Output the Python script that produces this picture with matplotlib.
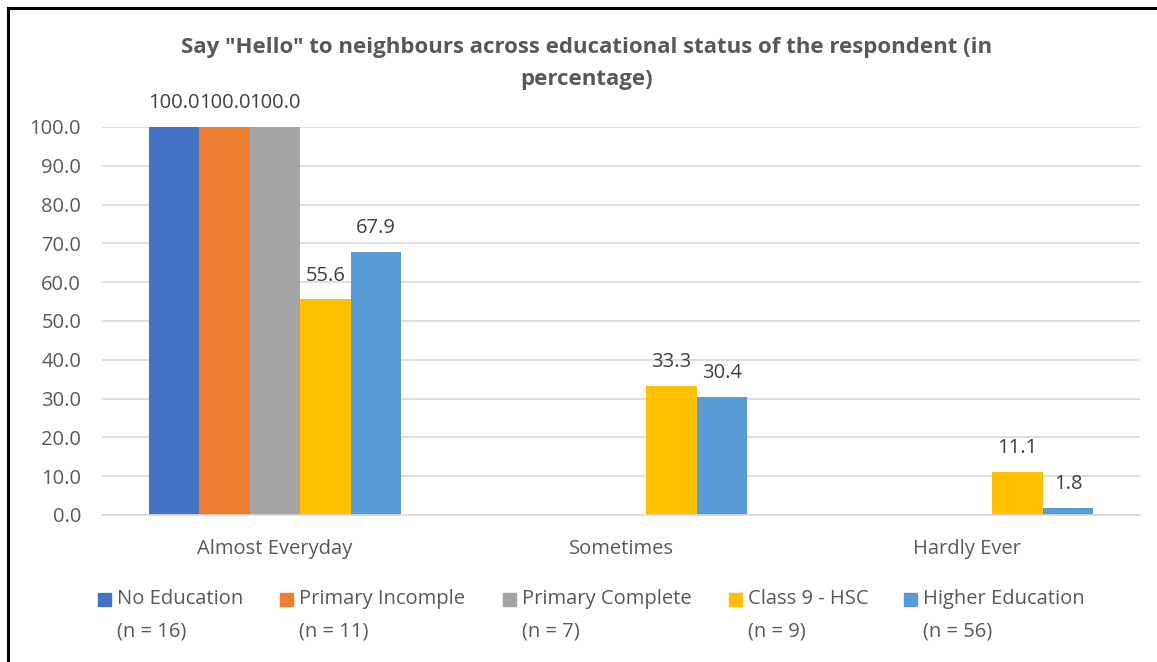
import matplotlib.pyplot as plt
import numpy as np
from matplotlib.lines import Line2D

categories = ["Almost Everyday", "Sometimes", "Hardly Ever"]
series_names = ["No Education\n(n = 16)", "Primary Incomple\n(n = 11)", "Primary Complete\n(n = 7)",
                "Class 9 - HSC\n(n = 9)", "Higher Education\n(n = 56)"]
no_education = [100.0, 0, 0]
primary_incomplete = [100.0, 0, 0]
primary_complete = [100.0, 0, 0]
class9_hsc = [55.6, 33.3, 11.1]
higher_education = [67.9, 30.4, 1.8]
yticks = [0, 10, 20, 30, 40, 50, 60, 70, 80, 90, 100]

colors = ["#4472C4", "#ED7D31", "#A5A5A5", "#FFC000", "#5B9BD5"]
series = [no_education, primary_incomplete, primary_complete, class9_hsc, higher_education]

plt.rcParams['font.family'] = ['Open Sans', 'DejaVu Sans']
txt = "#595959"
W, H = 1157, 662

fig = plt.figure(figsize=(W / 100, H / 100), dpi=100)
ax = fig.add_axes([102 / W, 1 - 515 / H, (1140 - 102) / W, (515 - 127) / H])

x = np.arange(len(categories))
w = 0.73 / len(series)
for i, (vals, c) in enumerate(zip(series, colors)):
    pos = x + (i - 2) * w
    bars = ax.bar(pos, vals, width=w, color=c, zorder=2)
    for b, v in zip(bars, vals):
        if v > 0:
            ax.annotate(f"{v:.1f}", (b.get_x() + b.get_width() / 2, v), xytext=(0, 17),
                        textcoords="offset points", ha="center", va="center",
                        fontsize=14.5, color="#404040")

ax.set_xlim(-0.5, 2.5)
ax.set_ylim(0, 100)
ax.set_yticks(yticks)
ax.set_yticklabels([f"{t:.1f}" for t in yticks], fontsize=14.5, color=txt)
ax.set_xticks(x)
ax.set_xticklabels(categories, fontsize=14.5, color=txt)
ax.tick_params(length=0)
ax.tick_params(axis="y", pad=15)
ax.tick_params(axis="x", pad=17)
ax.grid(axis="y", color="#D9D9D9", linewidth=1.2, zorder=0)
for s in ["top", "right", "left"]:
    ax.spines[s].set_visible(False)
ax.spines["bottom"].set_color("#D9D9D9")
ax.spines["bottom"].set_linewidth(1.2)

fig.text(587 / W, 1 - 47 / H, 'Say "Hello" to neighbours across educational status of the respondent (in',
         ha="center", va="center", fontsize=16, fontweight="bold", color=txt)
fig.text(587 / W, 1 - 80 / H, 'percentage)',
         ha="center", va="center", fontsize=16, fontweight="bold", color=txt)

# legend entries laid out in one row with two-line labels
leg_x = [98, 280, 503, 729, 904]
for lx, name, c in zip(leg_x, series_names, colors):
    fig.patches.append(plt.Rectangle((lx / W, 1 - 606 / H), 13 / W, 13 / H, transform=fig.transFigure,
                                     color=c, figure=fig))
    top, bottom = name.split("\n")
    fig.text((lx + 19) / W, 1 - 599 / H, top, ha="left", va="center", fontsize=14.5, color=txt)
    fig.text((lx + 19) / W, 1 - 631 / H, bottom, ha="left", va="center", fontsize=14.5, color=txt)

# chart border
fig.add_artist(Line2D([8 / W, 8 / W], [0.0, 1 - 8 / H], color="black", linewidth=2.2))
fig.add_artist(Line2D([8 / W, 1.0], [1 - 8 / H, 1 - 8 / H], color="black", linewidth=2.2))

fig.savefig("out.png", dpi=100)
